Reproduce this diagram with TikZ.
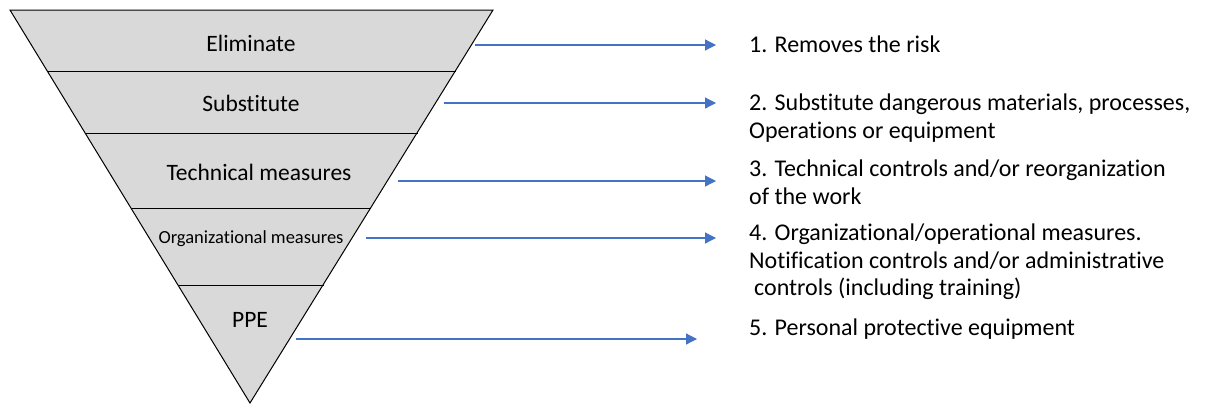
\documentclass[tikz,border=0pt]{standalone}
\usepackage{fontspec}
\setmainfont{Carlito}[Ligatures=NoCommon]
\usetikzlibrary{arrows.meta}
\definecolor{bandgray}{HTML}{D9D9D9}
\definecolor{arrowblue}{HTML}{4472C4}
\begin{document}
\begin{tikzpicture}[x=1pt,y=-1pt,
  band/.style={fill=bandgray,draw=black,line width=1pt,line join=miter},
  sep/.style={line width=0.9pt},
  lvl/.style={font=\fontsize{23.5}{27}\selectfont,inner sep=0pt},
  desc/.style={font=\fontsize{24}{27.5}\selectfont,align=left,anchor=north west,inner sep=0pt},
  conn/.style={draw=arrowblue,line width=1.2pt,-{Triangle[length=11pt,width=11pt]}}]
\useasboundingbox (0,0) rectangle (1206,405);
% triangle
\coordinate (TL) at (10,10);
\coordinate (TR) at (493,10);
\coordinate (AP) at (250,403);
\draw[band] (TL) -- (TR) -- (AP) -- cycle;
\draw[sep] (47.3,71) -- (455.7,71);
\draw[sep] (85.8,133) -- (417.5,133);
\draw[sep] (131.6,208) -- (371.1,208);
\draw[sep] (178.6,285) -- (323.5,285);
% labels
\node[lvl] (l1) at (251,43) {Eliminate};
\node[lvl] (l2) at (251,103) {Substitute};
\node[lvl] (l3) at (259,172) {Technical measures};
\node[lvl,font=\fontsize{18.5}{22}\selectfont] (l4) at (251,239) {Organizational measures};
\node[lvl] (l5) at (250,320) {PPE};
% descriptions
\node[desc] (d1) at (749,36) {1. Removes the risk};
\node[desc] (d2) at (749,94) {2. Substitute dangerous materials, processes,\\Operations or equipment};
\node[desc] (d3) at (749,160) {3. Technical controls and/or reorganization\\of the work};
\node[desc] (d4) at (749,224) {4. Organizational/operational measures.\\Notification controls and/or administrative\\\hspace{5pt}controls (including training)};
\node[desc] (d5) at (749,319) {5. Personal protective equipment};
% connectors
\coordinate (s1) at (475,45);  \coordinate (e1) at (716,45);
\coordinate (s2) at (444,103); \coordinate (e2) at (716,103);
\coordinate (s3) at (398,181); \coordinate (e3) at (716,181);
\coordinate (s4) at (366,238); \coordinate (e4) at (716,238);
\coordinate (s5) at (296,339); \coordinate (e5) at (697,339);
\draw[conn] (s1) -- (e1);
\draw[conn] (s2) -- (e2);
\draw[conn] (s3) -- (e3);
\draw[conn] (s4) -- (e4);
\draw[conn] (s5) -- (e5);
\end{tikzpicture}
\end{document}
